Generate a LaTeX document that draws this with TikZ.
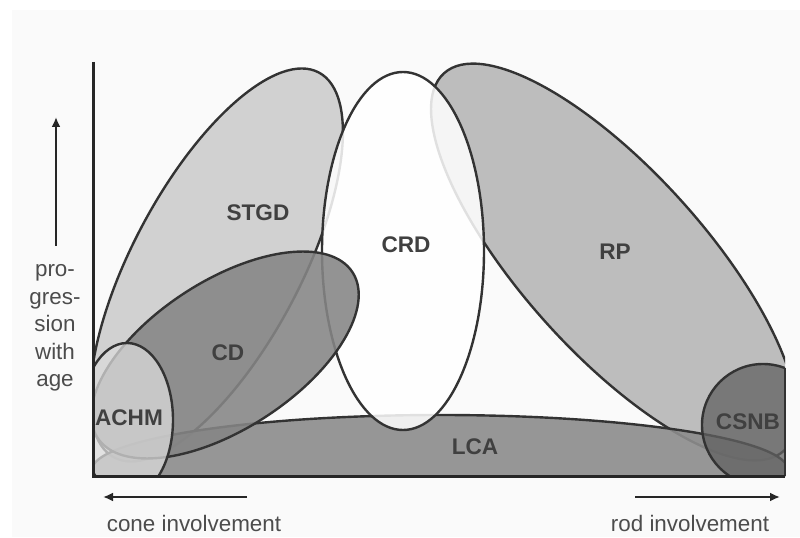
\documentclass[tikz,border=0pt]{standalone}
\usepackage{fontspec}
\setmainfont{Liberation Sans}
\usetikzlibrary{arrows.meta}
\tikzset{blob/.style={draw=black!80, line width=1.2pt}}
\tikzset{lbl/.style={font=\fontsize{11.3}{13}\selectfont\bfseries, text=black!75, inner sep=0pt}}
\tikzset{note/.style={font=\fontsize{11.2}{13.75}\selectfont, text=black!70, align=center, inner sep=0pt}}
\tikzset{dirarr/.style={draw=black!85, line width=1.3pt, -{Latex[length=5pt,width=4.5pt]}}}
\begin{document}
\begin{tikzpicture}[x=0.5pt,y=0.5pt]
\useasboundingbox (0,0) rectangle (800,537);
\fill[black!2] (12,0) rectangle (800,527);
%
\begin{scope}
  \clip (93,61) rectangle (785,537);
  % STGD
  \filldraw[blob, fill=black!18, rotate around={62:(216.5,272)}] (216.5,272) ellipse [x radius=218, y radius=84];
  % RP
  \filldraw[blob, fill=black!26, rotate around={-48:(614,275)}] (614,275) ellipse [x radius=254, y radius=91];
  % LCA
  \filldraw[blob, fill=black!45, fill opacity=0.9] (440,67) ellipse [x radius=348, y radius=55];
  % CRD
  \filldraw[blob, fill=white, fill opacity=0.85] (403,286) ellipse [x radius=81, y radius=179];
  % CD
  \filldraw[blob, fill=black!48, fill opacity=0.88, rotate around={33:(225,182)}] (225,182) ellipse [x radius=152, y radius=74];
  % ACHM
  \filldraw[blob, fill=black!14, fill opacity=0.75] (127,117) ellipse [x radius=46, y radius=77];
  % CSNB
  \filldraw[blob, fill=black!62, fill opacity=0.75] (763,112) circle [radius=61];
\end{scope}
\draw[blob] (785,61) -- (785,169);
%
\draw[line width=1.5pt, black!85] (93,475) -- (93,61) -- (785,61);
%
\node[lbl] (stgd) at (258,324) {STGD};
\node[lbl] (crd) at (406,292) {CRD};
\node[lbl] (rp) at (615,285) {RP};
\node[lbl] (cd) at (228,184) {CD};
\node[lbl] (achm) at (129,119) {ACHM};
\node[lbl] (lca) at (475,90) {LCA};
\node[lbl] (csnb) at (748,115) {CSNB};
%
\coordinate (age0) at (56,291);
\coordinate (age1) at (56,420);
\draw[dirarr] (age0) -- (age1);
\node[note] (prog) at (55,209) {pro-\\gres-\\sion\\with\\age};
%
\coordinate (cone0) at (247,40);
\coordinate (cone1) at (103,40);
\draw[dirarr] (cone0) -- (cone1);
\node[note] (cone) at (194,14) {cone involvement};
\coordinate (rod0) at (635,40);
\coordinate (rod1) at (780,40);
\draw[dirarr] (rod0) -- (rod1);
\node[note] (rod) at (690,14) {rod involvement};
\end{tikzpicture}
\end{document}
